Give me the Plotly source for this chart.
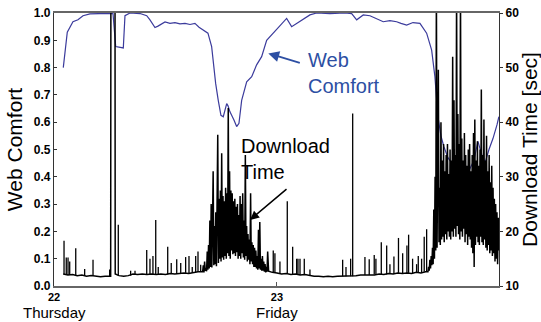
import numpy as np
import plotly.graph_objects as go

# ---------------- data (hours since Thursday 22, 00:00) ----------------
comfort_hours = [1.00, 1.43, 2.04, 2.58, 3.12, 3.87, 4.95, 6.13, 6.35, 6.64, 7.00, 7.46, 7.64, 8.18,
                 9.26, 9.98, 10.33, 10.87, 11.19, 11.62, 11.95, 12.48, 13.02, 13.56, 14.10, 14.64,
                 15.17, 15.61, 16.04, 16.57, 16.97, 17.14, 17.40, 17.68, 17.97, 18.22, 18.59, 18.73,
                 18.94, 19.37, 19.66, 19.91, 20.20, 20.74, 21.28, 21.81, 22.35, 22.89, 23.60, 24.32,
                 25.04, 25.58, 26.12, 26.83, 27.55, 28.27, 29.70, 31.32, 32.04, 32.58, 33.29, 34.01,
                 34.73, 35.44, 36.16, 36.88, 37.35, 37.96, 38.64, 39.39, 40.11, 40.65, 41.00, 41.33,
                 41.65, 41.97, 42.40, 42.83, 43.26, 43.69, 44.23, 44.77, 45.20, 45.63, 46.06, 46.39,
                 46.82, 47.25, 47.68, 47.89]
comfort_values = [0.80, 0.93, 0.968, 0.975, 0.99, 0.997, 0.998, 1.0, 0.998, 0.877, 0.875, 0.872, 0.99, 1.0,
                  0.998, 0.99, 0.975, 0.947, 0.952, 0.96, 0.967, 0.962, 0.965, 0.96, 0.962, 0.958,
                  0.962, 0.948, 0.938, 0.926, 0.877, 0.82, 0.742, 0.68, 0.625, 0.62, 0.668, 0.66,
                  0.638, 0.608, 0.584, 0.596, 0.68, 0.748, 0.767, 0.81, 0.84, 0.90, 0.926, 0.95,
                  0.98, 0.95, 0.962, 0.98, 0.993, 1.0, 0.998, 1.0, 0.998, 0.975, 0.993, 0.99,
                  0.98, 0.968, 0.972, 0.968, 0.962, 0.956, 0.965, 0.962, 0.926, 0.864, 0.767, 0.62,
                  0.55, 0.51, 0.47, 0.45, 0.47, 0.46, 0.44, 0.43, 0.46, 0.53, 0.48, 0.45,
                  0.50, 0.54, 0.59, 0.62]

# Thursday quiet baseline (download time, sec); values above 60 run off the chart
thu_base_hours = [1.0, 1.5, 2.0, 2.5, 3.0, 3.5, 4.0, 4.5, 5.0, 5.5, 6.0, 6.10, 6.13, 6.56, 6.59,
                  7.0, 7.5, 8.0, 8.5, 9.0, 9.5, 10.0, 10.5, 11.0, 11.5, 12.0, 12.5, 13.0, 13.5,
                  14.0, 14.5, 15.0, 15.5, 15.95]
thu_base_sec = [12.2, 12.0, 12.1, 11.9, 12.0, 11.8, 11.9, 11.8, 11.7, 11.8, 11.8, 11.8, 80.0, 80.0, 12.2,
                11.9, 11.8, 11.9, 12.2, 12.1, 12.2, 12.1, 12.2, 12.1, 12.2, 12.1, 12.3, 12.2, 12.3,
                12.4, 12.3, 12.5, 12.6, 12.6]

# Thursday afternoon congestion (uniform sampling 16.0 h -> 23.0 h)
thu_busy_start, thu_busy_end = 16.0, 23.0
thu_busy_sec = [12.6, 13.8, 12.5, 14.5, 12.8, 13.2, 12.7, 16.3,
                13.0, 17.5, 13.2, 22.0, 13.5, 25.0, 13.4, 21.0,
                31.0, 13.8, 21.0, 14.0, 23.5, 13.6, 24.0, 37.7,
                14.2, 26.0, 15.0, 27.5, 14.5, 34.3, 15.2, 26.5,
                14.8, 25.5, 15.5, 28.0, 15.0, 27.0, 16.0, 42.6,
                15.5, 31.0, 15.0, 27.5, 16.5, 27.0, 15.8, 25.5,
                16.0, 26.0, 15.5, 24.5, 16.2, 25.0, 15.0, 23.0,
                15.5, 26.5, 15.0, 25.0, 16.0, 27.0, 15.2, 22.0,
                14.8, 34.0, 15.5, 21.0, 14.5, 19.5, 14.8, 18.5,
                14.0, 27.0, 14.5, 18.0, 14.0, 17.5, 13.5, 17.0,
                13.5, 16.5, 13.2, 15.5, 13.0, 20.3, 13.2, 21.7,
                13.0, 15.0, 12.8, 15.5, 12.8, 14.5, 12.6, 14.0,
                12.5, 13.5, 12.6, 16.3]

# Friday quiet baseline
fri_base_hours = [23.1, 23.5, 24.0, 24.5, 25.0, 25.5, 26.0, 26.5, 27.0, 27.5, 28.0, 28.5, 29.0, 29.5,
                  30.0, 30.5, 31.0, 31.5, 32.0, 32.5, 33.0, 33.5, 34.0, 34.5, 35.0, 35.5, 36.0,
                  36.5, 37.0, 37.5, 38.0, 38.5, 39.0, 39.5, 40.0]
fri_base_sec = [12.7, 12.5, 12.4, 12.2, 12.3, 12.1, 12.2, 12.0, 12.1, 11.9, 11.8, 11.8, 11.7, 11.8,
                11.7, 11.8, 11.8, 11.9, 11.8, 11.9, 12.0, 12.0, 12.1, 12.0, 12.2, 12.1, 12.3,
                12.2, 12.4, 12.3, 12.4, 12.3, 12.5, 12.4, 12.6]

# Friday evening congestion (uniform sampling 40.25 h -> 47.89 h)
fri_busy_start, fri_busy_end = 40.25, 47.89
fri_busy_sec = [12.6, 13.5, 12.8, 14.8, 13.2, 15.5, 13.8, 17.0,
                14.0, 24.0, 15.0, 30.0, 16.5, 65.0, 17.0, 34.0,
                49.6, 18.0, 28.0, 17.5, 40.0, 18.5, 33.0, 19.0,
                36.0, 18.0, 31.0, 19.5, 34.0, 18.5, 36.0, 20.0,
                30.5, 19.0, 35.0, 18.5, 33.0, 20.0, 52.0, 19.0,
                44.0, 20.5, 34.0, 19.0, 65.0, 21.0, 41.5, 19.5,
                36.0, 18.5, 65.0, 20.0, 37.0, 19.0, 33.0, 20.5,
                38.0, 18.0, 34.0, 19.5, 32.0, 17.5, 35.0, 19.0,
                36.0, 18.5, 31.0, 17.0, 34.0, 16.0, 38.0, 13.5,
                40.5, 17.5, 33.0, 19.0, 36.5, 18.0, 32.0, 17.5,
                35.0, 19.0, 46.0, 18.0, 34.0, 17.5, 40.5, 18.5,
                33.0, 17.0, 37.5, 16.5, 31.0, 17.5, 34.0, 16.0,
                29.0, 16.5, 32.0, 15.5, 28.0, 16.0, 26.0, 14.5,
                25.0, 15.0, 23.5, 14.0, 22.5, 16.5]

# isolated download-time spikes (hour, peak sec, foot sec)
spike_hours = [1.08, 1.32, 1.51, 1.69, 2.34, 3.30, 4.20, 5.99, 6.92, 8.25, 8.72, 9.98, 10.33, 10.65,
               10.95, 11.22, 12.24, 12.62, 13.21, 13.64, 14.17, 14.53, 14.88, 15.25, 15.50, 15.79,
               23.60, 23.78, 24.32, 25.11, 25.69, 26.12, 26.26, 26.48, 26.94, 27.55, 31.07, 31.43,
               31.93, 32.15, 33.47, 33.93, 34.47, 34.65, 35.23, 35.81, 36.16, 36.59, 37.08, 37.53,
               37.99, 38.17, 38.60, 39.03, 39.21, 39.57, 39.85, 40.11]
spike_peak_sec = [18.3, 15.2, 15.2, 14.5, 16.9, 13.1, 14.8, 13.0, 21.2, 12.8, 12.8, 16.6, 15.0, 15.5,
                  22.1, 13.5, 17.2, 14.2, 14.9, 14.2, 15.3, 15.5, 13.5, 15.5, 16.3, 13.9,
                  16.5, 16.0, 14.5, 25.5, 17.2, 15.0, 15.0, 15.0, 15.0, 13.0, 14.8, 13.5,
                  15.0, 41.6, 15.3, 14.9, 15.7, 15.0, 18.0, 17.4, 14.0, 15.4, 18.8, 16.0,
                  17.4, 19.4, 15.0, 14.0, 15.5, 15.0, 19.0, 20.4]
spike_foot_sec = [12.1, 12.0, 12.0, 12.0, 12.0, 11.9, 11.9, 11.8, 11.9, 11.9, 12.1, 12.1, 12.1, 12.2,
                  12.1, 12.1, 12.1, 12.2, 12.2, 12.3, 12.4, 12.3, 12.4, 12.5, 12.6, 12.6,
                  12.5, 12.5, 12.4, 12.3, 12.1, 12.2, 12.2, 12.0, 12.1, 11.9, 11.8, 11.8,
                  11.8, 11.8, 12.0, 12.0, 12.1, 12.0, 12.2, 12.1, 12.3, 12.2, 12.4, 12.3,
                  12.4, 12.4, 12.3, 12.5, 12.5, 12.4, 12.6, 12.6]

day_tick_hours = [0, 24]
day_numbers = ["22", "23"]
day_names = ["Thursday", "Friday"]

# ---------------- build traces ----------------
thu_busy_hours = np.linspace(thu_busy_start, thu_busy_end, len(thu_busy_sec))
fri_busy_hours = np.linspace(fri_busy_start, fri_busy_end, len(fri_busy_sec))
dl_hours = np.concatenate([thu_base_hours, thu_busy_hours, fri_base_hours, fri_busy_hours])
dl_sec = np.concatenate([thu_base_sec, thu_busy_sec, fri_base_sec, fri_busy_sec])

sx, sy = [], []
for h, p, f in zip(spike_hours, spike_peak_sec, spike_foot_sec):
    sx += [h, h, None]
    sy += [f, p, None]

FONT = "Liberation Sans, Arial, Helvetica, sans-serif"
BLUE_LINE = "#3b3b9c"
BLUE_TEXT = "#2d4fa3"

fig = go.Figure()
fig.add_trace(go.Scatter(x=comfort_hours, y=comfort_values, mode="lines",
                         line=dict(color=BLUE_LINE, width=1.2), yaxis="y", showlegend=False))
fig.add_trace(go.Scatter(x=dl_hours, y=dl_sec, mode="lines",
                         line=dict(color="black", width=1.5), yaxis="y2", showlegend=False))
fig.add_trace(go.Scatter(x=sx, y=sy, mode="lines",
                         line=dict(color="black", width=1.3), yaxis="y2", showlegend=False))

fig.update_layout(
    width=541, height=322,
    margin=dict(l=54, r=42, t=13, b=36),
    paper_bgcolor="white", plot_bgcolor="white",
    font=dict(family=FONT, color="black"),
    xaxis=dict(range=[0, 47.9], tickvals=day_tick_hours, ticktext=day_numbers,
               ticks="inside", ticklen=4, tickcolor="#555",
               tickfont=dict(size=11, weight="bold"), automargin=False,
               showline=True, linecolor="#666", linewidth=1.8, mirror=True,
               showgrid=False, zeroline=False),
    yaxis=dict(range=[0, 1], dtick=0.1, tickformat=".1f",
               ticks="inside", ticklen=3, tickcolor="#333",
               tickfont=dict(size=12, weight="bold"), automargin=False,
               showline=True, linecolor="#333", linewidth=1.2,
               showgrid=False, zeroline=False,
               title=dict(text="Web Comfort", font=dict(size=21), standoff=5)),
    yaxis2=dict(range=[10, 60], dtick=10, overlaying="y", side="right",
                ticks="outside", ticklen=3, tickcolor="#333",
                tickfont=dict(size=12, weight="bold"), automargin=False,
                showline=True, linecolor="#333", linewidth=1.2,
                showgrid=False, zeroline=False,
                title=dict(text="Download Time [sec]", font=dict(size=21), standoff=11)),
)

for h, name in zip(day_tick_hours, day_names):
    fig.add_annotation(x=h, y=0, xref="x", yref="paper", text=name, showarrow=False,
                       xanchor="center", yanchor="middle", yshift=-26,
                       font=dict(size=15, family=FONT, color="black"))

fig.add_annotation(x=27.1, y=0.876, xref="x", yref="y", text="Web<br>Comfort", showarrow=False,
                   xanchor="left", yanchor="top", align="left",
                   font=dict(size=20, family=FONT, color=BLUE_TEXT))
fig.add_annotation(x=23.07, y=0.852, xref="x", yref="y", text="", showarrow=True,
                   ax=33, ay=10, arrowhead=2, arrowsize=1.2, arrowwidth=1.8, arrowcolor=BLUE_TEXT)

fig.add_annotation(x=19.9, y=0.562, xref="x", yref="y", text="Download<br>Time", showarrow=False,
                   xanchor="left", yanchor="top", align="left",
                   font=dict(size=20, family=FONT, color="black"))
fig.add_annotation(x=21.1, y=0.242, xref="x", yref="y", text="", showarrow=True,
                   ax=38, ay=-32, arrowhead=2, arrowsize=1.2, arrowwidth=1.5, arrowcolor="black")

fig.write_html("out.html")
